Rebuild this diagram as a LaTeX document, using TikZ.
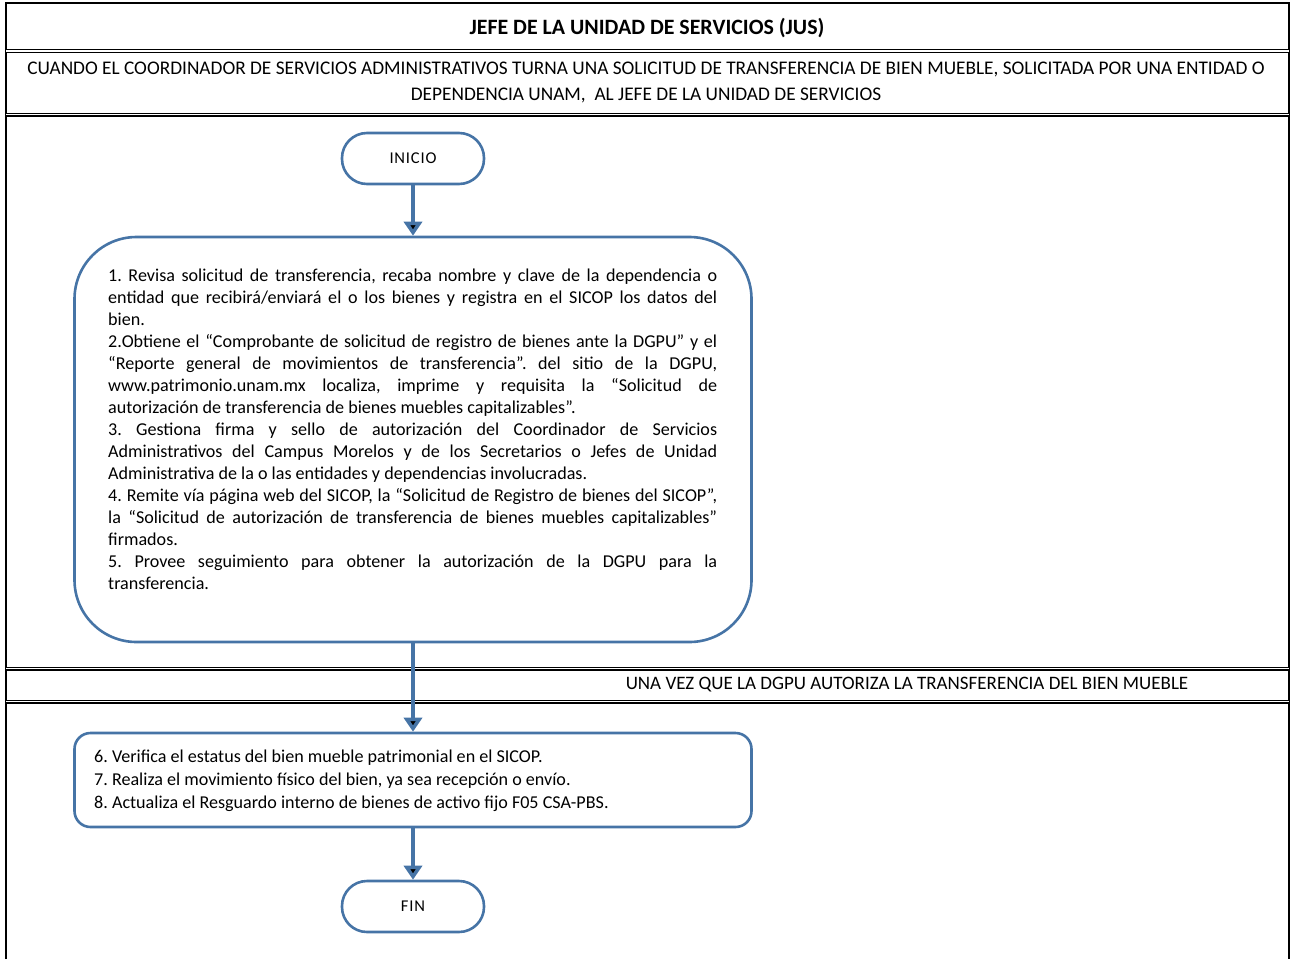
\documentclass[tikz,border=0pt]{standalone}
\usepackage{fontspec}
\setmainfont{Carlito}
\usetikzlibrary{arrows.meta}
\definecolor{azul}{RGB}{70,116,166}

\tikzset{
  marco/.style={line width=2pt},
  separador/.style={double, double distance=1.6pt, line width=1.2pt},
  terminal/.style={draw=azul, line width=2.6pt, rounded corners=25pt,
    minimum width=142pt, minimum height=51pt,
    font=\fontsize{16.5}{19}\selectfont\addfontfeatures{LetterSpace=5}},
  proceso/.style={draw=azul, line width=2.6pt},
  texto/.style={font=\fontsize{18.1}{22}\selectfont, inner sep=0pt},
  flecha/.style={draw=azul, line width=4pt, -{Triangle[width=18pt,length=14pt]}},
}

\begin{document}
\frenchspacing
\begin{tikzpicture}[x=1pt,y=-1pt]
	\useasboundingbox (0,0) rectangle (1295,959);
	\draw[marco] (6,959) -- (6,3) -- (1289,3) -- (1289,959);
	\draw[separador] (6,51) -- (1289,51);
	\draw[separador] (6,114.5) -- (1289,114.5);
	\draw[separador] (6,668.5) -- (1289,668.5);
	\draw[separador] (6,701.5) -- (1289,701.5);

	\node[font=\fontsize{21.9}{24}\selectfont\bfseries] (titulo) at (647,28) {JEFE DE LA UNIDAD DE SERVICIOS (JUS)};
	\node[font=\fontsize{19.3}{26}\selectfont, align=center] (cuando) at (646,82)
	{CUANDO EL COORDINADOR DE SERVICIOS ADMINISTRATIVOS TURNA UNA SOLICITUD DE TRANSFERENCIA DE BIEN MUEBLE, SOLICITADA POR UNA ENTIDAD O\\
	DEPENDENCIA UNAM,~ AL JEFE DE LA UNIDAD DE SERVICIOS};
	\node[font=\fontsize{19}{22}\selectfont] (unavez) at (907,685) {UNA VEZ QUE LA DGPU AUTORIZA LA TRANSFERENCIA DEL BIEN MUEBLE};

	\node[terminal] (inicio) at (413,158.5) {INICIO};
	\node[proceso, rounded corners=62pt, minimum width=677pt, minimum height=405pt] (paso1) at (413,439.5) {};
	\node[texto, anchor=north west, text width=609pt, align=justify] (pasotxt) at (108,269)
	{\tolerance=9999\hyphenpenalty=10000
	1. Revisa solicitud de transferencia, recaba nombre y clave de la dependencia o\linebreak
	entidad que recibirá/enviará el o los bienes y registra en el SICOP los datos del\linebreak
	bien.\par
	2.Obtiene el “Comprobante de solicitud de registro de bienes ante la DGPU” y el\linebreak
	“Reporte general de movimientos de transferencia”. del sitio de la DGPU,\linebreak
	www.patrimonio.unam.mx localiza, imprime y requisita la “Solicitud de\linebreak
	autorización de transferencia de bienes muebles capitalizables”.\par
	3. Gestiona firma y sello de autorización del Coordinador de Servicios\linebreak
	Administrativos del Campus Morelos y de los Secretarios o Jefes de Unidad\linebreak
	Administrativa de la o las entidades y dependencias involucradas.\par
	4. Remite vía página web del SICOP, la “Solicitud de Registro de bienes del SICOP”,\linebreak
	la “Solicitud de autorización de transferencia de bienes muebles capitalizables”\linebreak
	firmados.\par
	5. Provee seguimiento para obtener la autorización de la DGPU para la\linebreak
	transferencia.};
	\node[proceso, rounded corners=16pt, minimum width=677pt, minimum height=94pt] (paso2) at (413,780) {};
	\node[texto, font=\fontsize{18.1}{23}\selectfont, anchor=west, align=left] (paso2txt) at (94,781)
	{6. Verifica el estatus del bien mueble patrimonial en el SICOP.\\
	7. Realiza el movimiento físico del bien, ya sea recepción o envío.\\
	8. Actualiza el Resguardo interno de bienes de activo fijo F05 CSA-PBS.};
	\node[terminal] (fin) at (413,906.5) {FIN};

	\path[flecha] (inicio) edge (paso1);
	\path[flecha] (paso1) edge (paso2);
	\path[flecha] (paso2) edge (fin);
\end{tikzpicture}
\end{document}
